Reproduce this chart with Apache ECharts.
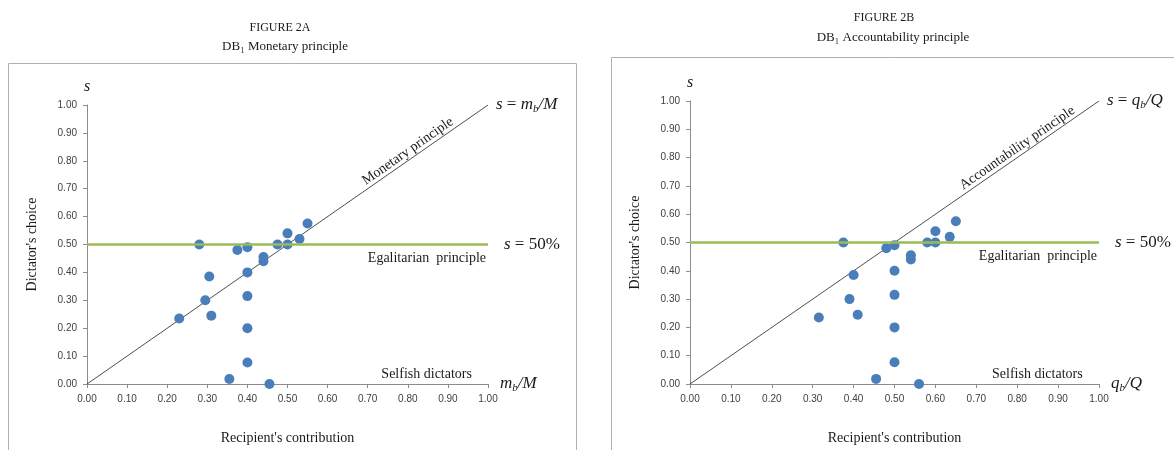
<!DOCTYPE html>
<html><head><meta charset="utf-8">
<script src="https://cdn.jsdelivr.net/npm/echarts@6/dist/echarts.min.js"></script>
<style>html,body{margin:0;padding:0;background:#fff}#c{width:1174px;height:450px}</style>
</head><body><div id="c"></div>
<script>
// ---- data ----
const axisTicks = [0, 0.1, 0.2, 0.3, 0.4, 0.5, 0.6, 0.7, 0.8, 0.9, 1.0];
const dictatorShare = [0.50, 0.48, 0.49, 0.455, 0.44, 0.50, 0.54, 0.50, 0.52, 0.575, 0.40, 0.385, 0.30, 0.245, 0.235, 0.315, 0.20, 0.077, 0.018, 0.0];
const monetaryContribution = [0.28, 0.375, 0.40, 0.44, 0.44, 0.475, 0.50, 0.50, 0.53, 0.55, 0.40, 0.305, 0.295, 0.31, 0.23, 0.40, 0.40, 0.40, 0.355, 0.455];
const accountContribution = [0.375, 0.48, 0.50, 0.54, 0.54, 0.58, 0.60, 0.60, 0.635, 0.65, 0.50, 0.40, 0.39, 0.41, 0.315, 0.50, 0.50, 0.50, 0.455, 0.56];
const principleLine = [0, 1];          // s = contribution share
const egalitarianShare = 0.5;         // s = 50%

const serif = 'Liberation Serif';
const sans = 'Liberation Sans';
const chart = echarts.init(document.getElementById('c'), null, {renderer: 'canvas'});

function xAx(i) {
  return {
    gridIndex: i, type: 'value', min: axisTicks[0], max: axisTicks[axisTicks.length - 1], interval: 0.1,
    axisLine: {show: true, onZero: false, lineStyle: {color: '#8c8c8c', width: 1}},
    axisTick: {show: true, inside: false, length: 4, lineStyle: {color: '#8c8c8c'}},
    splitLine: {show: false},
    axisLabel: {formatter: v => v.toFixed(2), fontSize: 10, fontFamily: sans, color: '#404040', margin: 10},
    name: "Recipient's contribution", nameLocation: 'middle', nameGap: 47,
    nameTextStyle: {fontFamily: serif, fontSize: 14, color: '#1a1a1a'}
  };
}
function yAx(i) {
  return {
    gridIndex: i, type: 'value', min: axisTicks[0], max: axisTicks[axisTicks.length - 1], interval: 0.1,
    axisLine: {show: true, onZero: false, lineStyle: {color: '#8c8c8c', width: 1}},
    axisTick: {show: true, inside: false, length: 4, lineStyle: {color: '#8c8c8c'}},
    splitLine: {show: false},
    axisLabel: {formatter: v => v.toFixed(2), fontSize: 10, fontFamily: sans, color: '#404040', margin: 10},
    name: "Dictator's choice", nameLocation: 'middle', nameGap: 48,
    nameTextStyle: {fontFamily: serif, fontSize: 14, color: '#1a1a1a'}
  };
}
function pts(xs) { return xs.map((x, i) => [x, dictatorShare[i]]); }
function seriesFor(i, xs) {
  return [
    {type: 'line', xAxisIndex: i, yAxisIndex: i, data: principleLine.map(v => [v, v]), symbol: 'none',
     lineStyle: {color: '#222', width: 0.8}, silent: true, z: 2},
    {type: 'scatter', xAxisIndex: i, yAxisIndex: i, data: pts(xs), symbolSize: 10,
     itemStyle: {color: '#4a7ebb', opacity: 1}, z: 3},
    {type: 'line', xAxisIndex: i, yAxisIndex: i, data: principleLine.map(v => [v, egalitarianShare]), symbol: 'none',
     lineStyle: {color: '#9bbb59', width: 2.5}, silent: true, z: 4}
  ];
}

chart.setOption({
  animation: false,
  grid: [
    {left: 87, top: 105, width: 401, height: 284},
    {left: 690, top: 101, width: 409, height: 288}
  ],
  xAxis: [xAx(0), xAx(1)],
  yAxis: [yAx(0), yAx(1)],
  series: seriesFor(0, monetaryContribution).concat(seriesFor(1, accountContribution))
});

function P(i, x, y) { return chart.convertToPixel({gridIndex: i}, [x, y]); }
function txt(x, y, style, extra) {
  return Object.assign({type: 'text', x: x, y: y, style: Object.assign({fill: '#1a1a1a', fontFamily: serif}, style), z: 100}, extra || {});
}
const rich = {
  i: {fontFamily: serif, fontStyle: 'italic', fontSize: 17, fill: '#1a1a1a'},
  n: {fontFamily: serif, fontSize: 17, fill: '#1a1a1a'},
  sub: {fontFamily: serif, fontStyle: 'italic', fontSize: 11, fill: '#1a1a1a', padding: [8, 0, 0, 0]}
};
function panelGraphics(i, varName, totName, diagLabel) {
  const g = [];
  const o = P(i, 0, 0), t = P(i, 1, 1), h = P(i, 1, egalitarianShare);
  const ang = Math.atan2(o[1] - t[1], t[0] - o[0]);
  const m = P(i, 0.81, 0.81);
  g.push(txt(m[0], m[1] - 1, {text: diagLabel, fontSize: 14, align: 'center', verticalAlign: 'bottom'}, {rotation: ang, originX: 0, originY: 0}));
  const top = P(i, 0, 1);
  g.push(txt(top[0], top[1] - 18, {text: 's', fontStyle: 'italic', fontSize: 16, align: 'center', verticalAlign: 'middle'}));
  g.push(txt(t[0] + 8, t[1], {text: '{i|s}{n| = }{i|' + varName + '}{sub|b}{i|/' + totName + '}', rich: rich, align: 'left', verticalAlign: 'middle'}));
  g.push(txt(h[0] + 16, h[1], {text: '{i|s}{n| = 50%}', rich: rich, align: 'left', verticalAlign: 'middle'}));
  g.push(txt(h[0] - 2, h[1] + 14, {text: 'Egalitarian  principle', fontSize: 14, align: 'right', verticalAlign: 'middle'}));
  const sd = P(i, 0.96, 0.035);
  g.push(txt(sd[0], sd[1], {text: 'Selfish dictators', fontSize: 14, align: 'right', verticalAlign: 'middle'}));
  g.push(txt(t[0] + 12, o[1], {text: '{i|' + varName + '}{sub|b}{i|/' + totName + '}', rich: rich, align: 'left', verticalAlign: 'middle'}));
  return g;
}

const graphics = [
  {type: 'rect', shape: {x: 8.5, y: 63.5, width: 568, height: 420}, style: {fill: null, stroke: '#b0b0b0', lineWidth: 1}, z: 0},
  {type: 'rect', shape: {x: 611.5, y: 57.5, width: 600, height: 420}, style: {fill: null, stroke: '#b0b0b0', lineWidth: 1}, z: 0},
  txt(280, 28, {text: 'FIGURE 2A', fontSize: 12, align: 'center', verticalAlign: 'middle'}),
  txt(285, 47, {text: 'DB₁ Monetary principle', fontSize: 13, align: 'center', verticalAlign: 'middle'}),
  txt(884, 18, {text: 'FIGURE 2B', fontSize: 12, align: 'center', verticalAlign: 'middle'}),
  txt(893, 38, {text: 'DB₁ Accountability principle', fontSize: 13, align: 'center', verticalAlign: 'middle'})
].concat(panelGraphics(0, 'm', 'M', 'Monetary principle'))
 .concat(panelGraphics(1, 'q', 'Q', 'Accountability principle'));

chart.setOption({graphic: graphics});
</script>
</body></html>
